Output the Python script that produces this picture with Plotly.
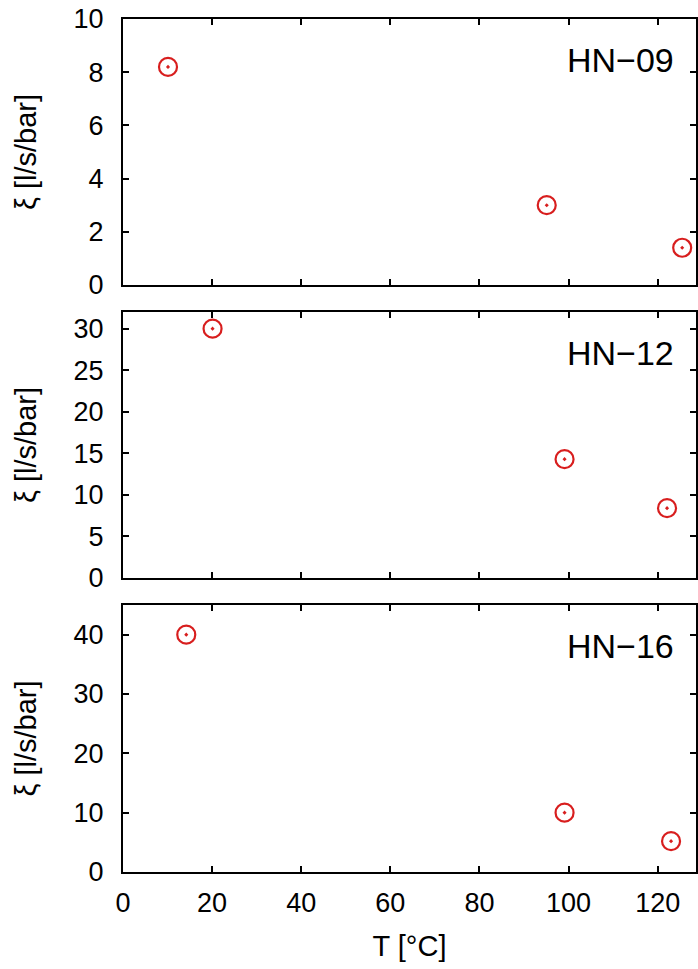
import plotly.graph_objects as go

T_09 = [10.1, 95.1, 125.5]
xi_09 = [8.2, 3.0, 1.4]
T_12 = [20.1, 99.1, 122.1]
xi_12 = [30.0, 14.3, 8.4]
T_16 = [14.2, 99.1, 123.0]
xi_16 = [40.0, 10.0, 5.2]
labels = ["HN\u221209", "HN\u221212", "HN\u221216"]
x_ticks = [0, 20, 40, 60, 80, 100, 120]
y_ticks = [[0, 2, 4, 6, 8, 10], [0, 5, 10, 15, 20, 25, 30], [0, 10, 20, 30, 40]]
y_ranges = [[0, 10], [0, 32], [0, 45]]

H = 853.0
domains = [[587 / H, 1.0], [294 / H, 560 / H], [0.0, 267 / H]]
FONT = "Liberation Sans, Arial, Helvetica, sans-serif"
RED = "#d81e1e"

fig = go.Figure()
series = [(T_09, xi_09), (T_12, xi_12), (T_16, xi_16)]
for i, (xs, ys) in enumerate(series):
    sfx = "" if i == 0 else str(i + 1)
    fig.add_trace(go.Scatter(
        x=xs, y=ys, mode="markers", xaxis="x" + sfx, yaxis="y" + sfx,
        marker=dict(symbol="circle-open-dot", size=18, color=RED,
                    line=dict(width=2.2, color=RED)),
        showlegend=False, hoverinfo="skip"))

axis_common = dict(showline=True, linecolor="black", linewidth=2, mirror="ticks",
                   ticks="inside", ticklen=6, tickwidth=2, tickcolor="black",
                   showgrid=False, zeroline=False,
                   tickfont=dict(family=FONT, size=27, color="black"))

layout = dict(
    width=698, height=969,
    margin=dict(l=123, r=0, t=19, b=97),
    plot_bgcolor="white", paper_bgcolor="white",
    font=dict(family=FONT, color="black"),
    showlegend=False,
)
for i in range(3):
    sfx = "" if i == 0 else str(i + 1)
    xa = dict(axis_common, range=[0, 128.6], tickvals=x_ticks, domain=[0, 1],
              anchor="y" + sfx, showticklabels=(i == 2), ticklabelstandoff=6)
    if i == 2:
        xa["title"] = dict(text="T [\u00b0C]", font=dict(family=FONT, size=29, color="black"), standoff=18)
    ya = dict(axis_common, range=y_ranges[i], tickvals=y_ticks[i], domain=domains[i],
              anchor="x" + sfx, ticklabelstandoff=12,
              title=dict(text="\u03be [l/s/bar]", font=dict(family=FONT, size=29, color="black"), standoff=28))
    layout["xaxis" + sfx] = xa
    layout["yaxis" + sfx] = ya

annotations = []
for i in range(3):
    sfx = "" if i == 0 else str(i + 1)
    annotations.append(dict(text=labels[i], xref="x" + sfx + " domain", yref="y" + sfx + " domain",
                            x=0.965, y=0.846, xanchor="right", yanchor="middle", showarrow=False,
                            font=dict(family=FONT, size=34, color="black")))
layout["annotations"] = annotations
fig.update_layout(**layout)
fig.write_html("out.html")
